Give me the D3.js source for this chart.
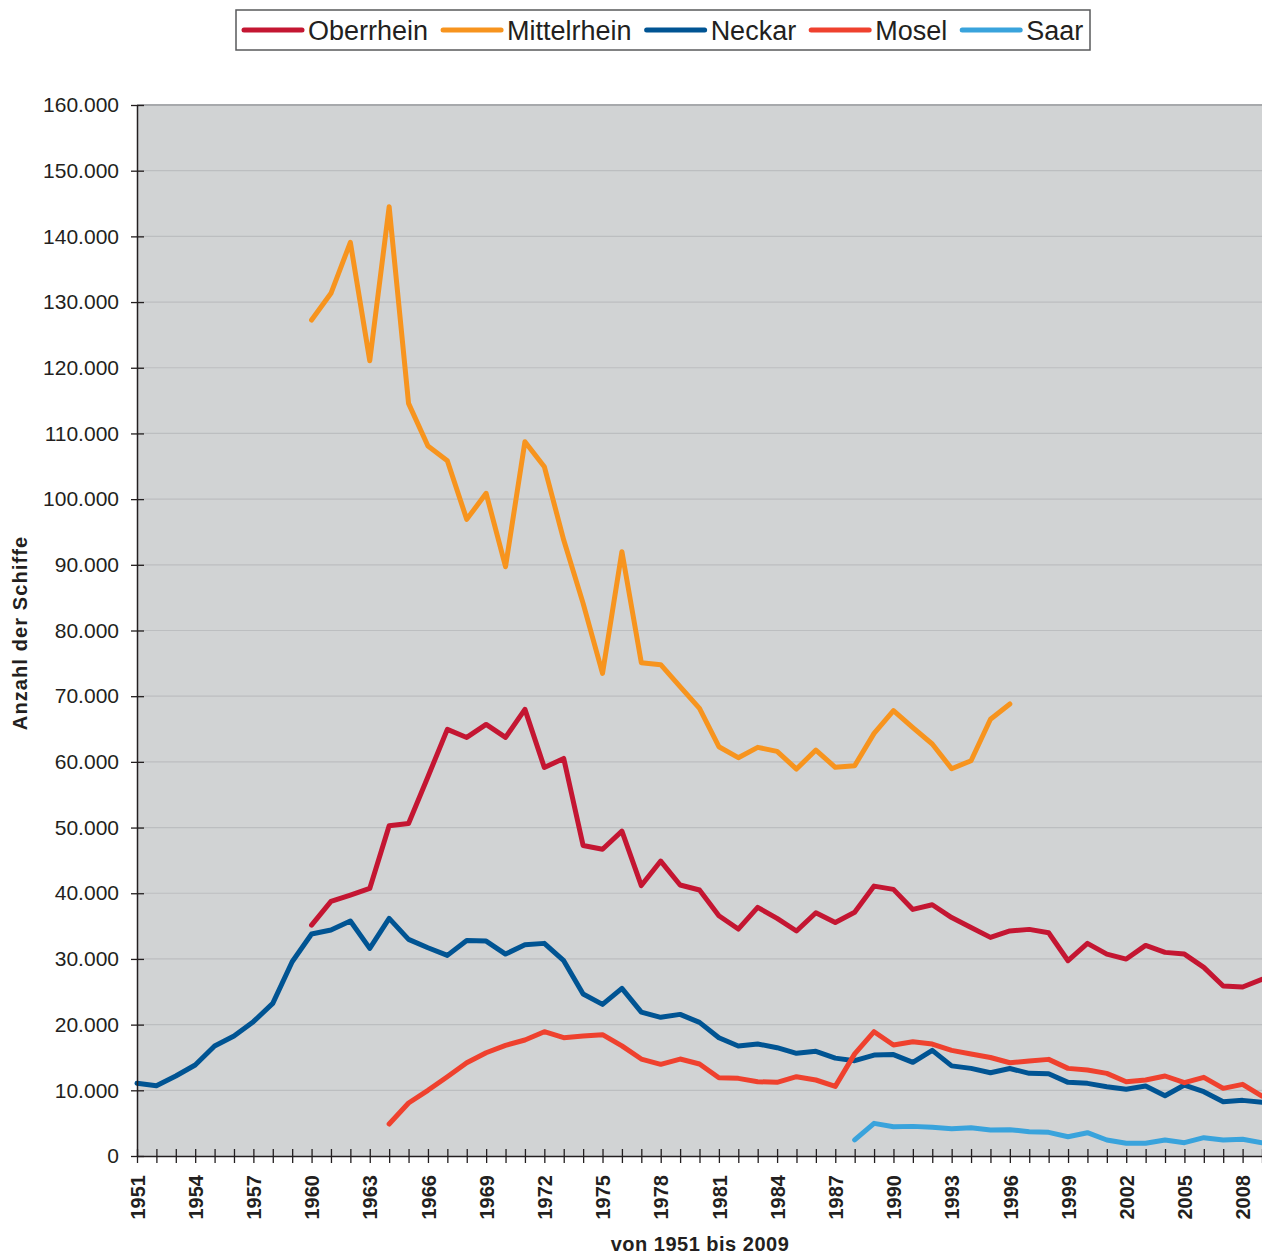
<!DOCTYPE html>
<html>
<head>
<meta charset="utf-8">
<script src="https://cdn.jsdelivr.net/npm/d3@7"></script>
<style>
  body { margin: 0; background: #fff; }
  svg { display: block; font-family: "Liberation Sans", Arial, sans-serif; }
  text { fill: #231f20; }
</style>
</head>
<body>
<svg id="chart" width="1262" height="1256"></svg>
<script>
// years on the x axis
let years = d3.range(1951, 2010)
let yTicks = d3.range(0, 160001, 10000)

let series_names = ["Oberrhein", "Mittelrhein", "Neckar", "Mosel", "Saar"]
let series_colors = ["#c41632", "#f7941e", "#005493", "#ef412e", "#39a3dc"]
let series_start = [1960, 1960, 1951, 1964, 1988]

let oberrhein = [35160, 38760, 39720, 40740, 50280, 50630, 57740, 64940, 63720, 65700,
  63720, 67990, 59150, 60520, 47280, 46700, 49450, 41170, 44900, 41250,
  40490, 36580, 34550, 37850, 36170, 34250, 37030, 35540, 37110, 41090,
  40590, 37540, 38250, 36300, 34800, 33280, 34270, 34500, 33990, 29730,
  32370, 30740, 29980, 32060, 31000, 30740, 28720, 25870, 25720, 26900]
let mittelrhein = [127270, 131330, 139090, 121070, 144510, 114580, 108080, 105850, 96920, 100880,
  89710, 108740, 104940, 93770, 84130, 73480, 92000, 75100, 74800, 71450,
  68150, 62310, 60640, 62210, 61600, 58910, 61800, 59170, 59420, 64340,
  67790, 65200, 62720, 58960, 60180, 66480, 68810]
let neckar = [11060, 10700, 12180, 13850, 16740, 18260, 20450, 23230, 29580,
  33790, 34400, 35770, 31600, 36170, 32980, 31710, 30540, 32820, 32720,
  30740, 32170, 32370, 29730, 24660, 23080, 25520, 21900, 21110, 21560,
  20340, 18010, 16740, 17050, 16490, 15630, 15930, 14900, 14510, 15370,
  15440, 14260, 16080, 13720, 13340, 12680, 13320, 12580, 12530, 11210,
  11060, 10550, 10150, 10650, 9180, 10800, 9790, 8270, 8470, 8170]
let mosel = [4870, 8070, 10000, 12070, 14200, 15720, 16840, 17660, 18920, 18010,
  18260, 18470, 16770, 14760, 13950, 14760, 14000, 11920, 11820, 11310,
  11210, 12070, 11570, 10600, 15550, 18920, 16890, 17400, 17050, 16080,
  15520, 15000, 14200, 14460, 14710, 13340, 13090, 12580, 11310, 11570,
  12180, 11160, 11980, 10300, 10910, 9100]
let saar = [2440, 4970, 4460, 4510, 4360, 4160, 4310, 3960, 4010, 3700,
  3600, 2940, 3550, 2440, 1930, 1930, 2440, 2030, 2790, 2440, 2540, 2030]

let series_values = [oberrhein, mittelrhein, neckar, mosel, saar]

let margin = { left: 137, right: 0, top: 105, bottom: 100 }
let width = 1262, height = 1256

let svg = d3.select("#chart")
let x = d3.scaleLinear().domain([1951, 2009]).range([margin.left, width - margin.right])
let y = d3.scaleLinear().domain([0, 160000]).range([height - margin.bottom, margin.top])

let de = d3.formatLocale({ decimal: ",", thousands: ".", grouping: [3], currency: ["", "€"] })
let fmt = de.format(",")

// plot background
svg.append("rect")
  .attr("x", x(1951)).attr("y", y(160000))
  .attr("width", x(2009) - x(1951)).attr("height", y(0) - y(160000))
  .attr("fill", "#d1d3d4")

// gridlines
svg.append("g").selectAll("line")
  .data(yTicks.filter(d => d > 0)).enter()
  .append("line")
  .attr("x1", x(1951)).attr("x2", x(2009))
  .attr("y1", d => y(d)).attr("y2", d => y(d))
  .attr("stroke", d => d == 160000 ? "#a7a9ac" : "#bcbec0")
  .attr("stroke-width", d => d == 160000 ? 2 : 1.2)

// lines
let line = d3.line().x(d => x(d[0])).y(d => y(d[1]))
svg.append("g").selectAll("path")
  .data(series_values.map((vals, i) => vals.map((v, j) => [series_start[i] + j, v]))).enter()
  .append("path")
  .attr("d", line)
  .attr("fill", "none")
  .attr("stroke", (d, i) => series_colors[i])
  .attr("stroke-width", 5)
  .attr("stroke-linejoin", "round")
  .attr("stroke-linecap", "round")

// y axis
let yAxis = svg.append("g")
  .attr("transform", `translate(${x(1951)},0)`)
  .call(d3.axisLeft(y).tickValues(yTicks).tickFormat(fmt).tickSizeInner(6).tickSizeOuter(0).tickPadding(12))
yAxis.select(".domain").attr("stroke", "#231f20").attr("stroke-width", 1.5)
yAxis.selectAll(".tick line").attr("x1", 7).attr("stroke", "#231f20").attr("stroke-width", 1.3)
yAxis.selectAll(".tick text")
  .attr("font-size", 21).attr("fill", "#231f20")
  .style("font-family", "'Liberation Sans', Arial, sans-serif")

// x axis
let xAxis = svg.append("g")
  .attr("transform", `translate(0,${y(0)})`)
  .call(d3.axisBottom(x).tickValues(years)
    .tickFormat(d => (d - 1951) % 3 == 0 ? d : "")
    .tickSizeInner(7).tickSizeOuter(0).tickPadding(0))
xAxis.select(".domain").attr("stroke", "#231f20").attr("stroke-width", 1.5)
xAxis.selectAll(".tick line").attr("y1", -7).attr("stroke", "#231f20").attr("stroke-width", 1.3)
xAxis.selectAll(".tick text")
  .attr("transform", "rotate(-90)")
  .attr("text-anchor", "end")
  .attr("x", -19).attr("y", 0).attr("dy", "0.36em")
  .attr("font-size", 20).attr("font-weight", "bold").attr("fill", "#231f20")
  .style("font-family", "'Liberation Sans', Arial, sans-serif")

// axis titles
svg.append("text")
  .attr("transform", "translate(27,633) rotate(-90)")
  .attr("text-anchor", "middle")
  .attr("font-size", 20).attr("font-weight", "bold")
  .attr("letter-spacing", 1.1)
  .text("Anzahl der Schiffe")

svg.append("text")
  .attr("x", 700).attr("y", 1251)
  .attr("text-anchor", "middle")
  .attr("font-size", 20).attr("font-weight", "bold")
  .attr("letter-spacing", 0.5)
  .text("von 1951 bis 2009")

// legend
let legend = svg.append("g")
legend.append("rect")
  .attr("x", 236).attr("y", 10).attr("width", 854).attr("height", 40)
  .attr("fill", "#fff").attr("stroke", "#58595b").attr("stroke-width", 1.5)

let lx = 244
series_names.forEach((name, i) => {
  legend.append("line")
    .attr("x1", lx).attr("x2", lx + 58).attr("y1", 30).attr("y2", 30)
    .attr("stroke", series_colors[i]).attr("stroke-width", 5).attr("stroke-linecap", "round")
  let t = legend.append("text")
    .attr("x", lx + 64).attr("y", 39.5)
    .attr("font-size", 27)
    .text(name)
  lx += 64 + t.node().getComputedTextLength() + 15
})
</script>
</body>
</html>
